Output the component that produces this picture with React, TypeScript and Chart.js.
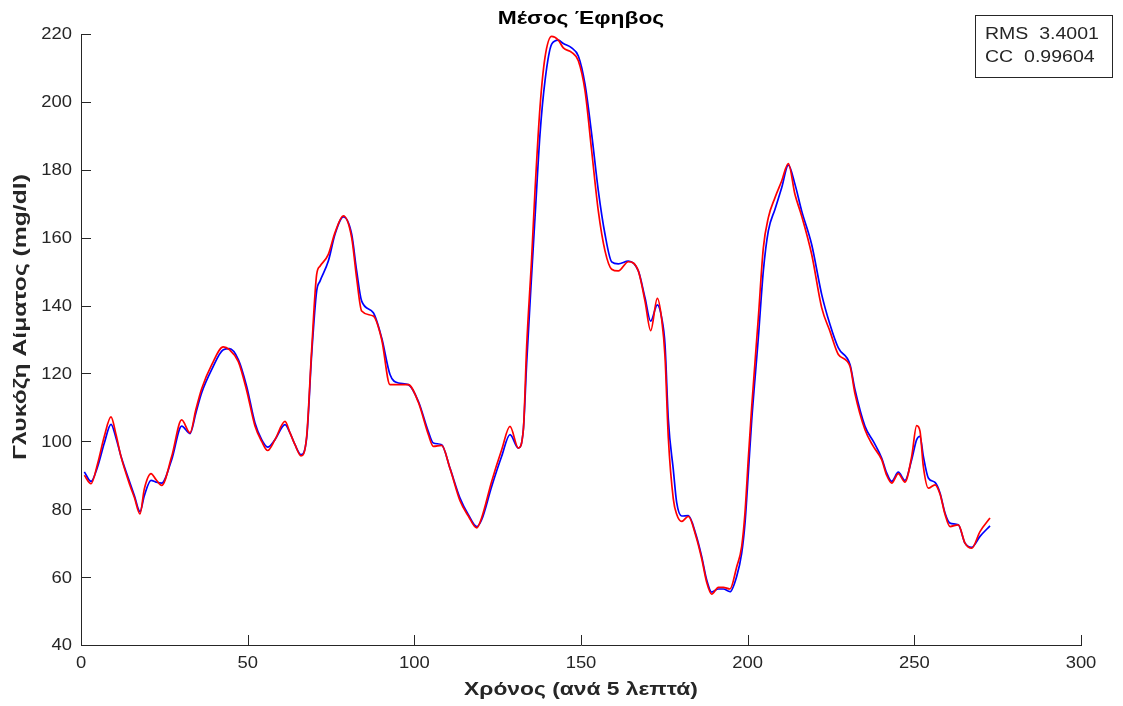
import React, { useEffect, useRef } from "react";
import { Chart, registerables } from "chart.js";

Chart.register(...registerables);

// Time index (samples every 5 minutes)
const TIME = [
  1, 3, 5, 7, 9, 10.5, 12, 14.7, 16, 17.7, 19, 21, 22.5, 24.2, 27.2, 30.2, 32.7, 34.5, 36.2, 39.2,
  42.7, 44.5, 47.2, 49.7, 52.2, 54.2, 56, 58.2, 61.2, 62.7, 64.2, 66, 67.7, 69.2, 70.7, 71.7, 74.2,
  76.2, 78.7, 81.2, 82.7, 84.2, 87.7, 90.2, 92.7, 95.2, 98.2, 101.2, 104.2, 105.7, 108.2, 110.7,
  113.7, 116.2, 118.7, 120.2, 123.2, 126.2, 128.7, 131.2, 132.7, 133.7, 135.2, 136.2, 137.7, 139.2,
  141.2, 143.2, 144.7, 147.2, 149.2, 151.2, 153.2, 155.2, 157.2, 159.2, 161.2, 164.2, 167.2, 169.2,
  170.9, 172.9, 174.2, 175.2, 176.2, 177.7, 178.7, 180.2, 182.2, 184.5, 186.2, 187.7, 189.2, 191.2,
  192.7, 194.7, 196.7, 198.2, 199.2, 200.2, 201.2, 203.2, 204.7, 206.2, 208.2, 210.2, 212.2, 214.2,
  216.2, 219.2, 222.2, 224.7, 227.2, 230.7, 232.2, 235.2, 237.7, 240.2, 241.7, 243.2, 245.2, 247.2,
  249.2, 250.7, 251.7, 252.7, 254.2, 256.2, 257.7, 259.2, 260.7, 263.2, 265.2, 267.2, 269.7, 272.7,
];

// Measured glucose (blue)
const MEASURED = [
  91, 88.2, 92.6, 99.5, 105, 101, 95.6, 87.7, 84, 79.3, 84, 88.5, 88, 87.7, 94.6, 104.5, 102.3, 108.5,
  114.3, 121.1, 127, 127.3, 124.1, 116.2, 105.4, 100.5, 98.3, 100.5, 104.9, 102.5, 99, 96.1, 101,
  125.6, 144.3, 147.2, 153.1, 161, 166.1, 161, 150.2, 141.3, 137.9, 130.5, 119.7, 117.2, 116.7, 111.8,
  102.9, 99.5, 99, 92.1, 83.3, 78.4, 74.9, 76.9, 86.7, 95.6, 102, 98, 103.4, 123, 149.2, 165.9, 190.5,
  206.2, 217, 218.2, 217.2, 215.9, 213.5, 205.2, 190.5, 173.8, 161, 152.9, 152.3, 153.1, 150.2, 142.3,
  135.4, 140.2, 136.4, 128.5, 106.4, 91.6, 82, 78, 78.1, 72.5, 66.1, 59.2, 55.6, 56.5, 56.5, 55.7,
  60.2, 67, 75.9, 90.7, 106, 130.5, 150.2, 162, 168.4, 174.7, 181.4, 175.7, 167.9, 158, 143.3, 134.4,
  127.5, 122.6, 115.2, 104.4, 100, 95.1, 90.7, 88.2, 90.9, 88.5, 94.6, 100.5, 101.5, 95.6, 89.2, 87.9,
  84.8, 78.9, 75.9, 75.4, 70, 68.8, 72, 75.1,
];

// Predicted glucose (red)
const PREDICTED = [
  90, 87.5, 93.5, 101.5, 107.2, 102, 95.5, 87, 83.5, 78.6, 86, 90.5, 88.7, 87, 95.5, 106.3, 102.5,
  109.5, 115.5, 122.5, 127.8, 127, 123.5, 115, 104.5, 100, 97.3, 100.5, 105.9, 102.5, 99, 95.7, 101.5,
  127, 149.2, 151.6, 155.1, 161.5, 166.4, 160, 148, 138.4, 136.9, 130, 116.7, 116.7, 116.7, 111.5, 102,
  98.5, 98.8, 92, 82.5, 78, 74.5, 77.5, 88.2, 97.5, 104.4, 98, 103.4, 128, 154.1, 173.8, 198.4, 213.1,
  219.3, 218.2, 215.9, 214.6, 212.1, 203.3, 185.6, 167.8, 156.1, 150.7, 150.2, 152.9, 150.2, 141.3,
  132.6, 142.1, 136, 125, 101, 83, 78.5, 76.4, 77.9, 72, 65.5, 58.5, 55, 57, 57, 56.5, 63, 69, 79, 95,
  110, 136.4, 157, 165.9, 171.8, 176.7, 181.8, 172.7, 166.4, 155.1, 139.4, 132.4, 125.6, 122.1, 114,
  103.4, 98.5, 94.6, 90, 87.7, 90.5, 88, 95.5, 104.6, 103, 92.6, 86.2, 87.2, 84.5, 78.5, 74.9, 75.4, 70,
  68.5, 73.4, 77.4,
];

const X_TICKS = [0, 50, 100, 150, 200, 250, 300];
const Y_TICKS = [40, 60, 80, 100, 120, 140, 160, 180, 200, 220];
const TITLE = "Μέσος Έφηβος";
const X_LABEL = "Χρόνος (ανά 5 λεπτά)";
const Y_LABEL = "Γλυκόζη Αίματος (mg/dl)";
const STATS = ["RMS  3.4001", "CC  0.99604"];

const AXIS_COLOR = "#262626";
const FONT = "'Liberation Sans', Arial, Helvetica, sans-serif";

function drawStretched(
  ctx: CanvasRenderingContext2D,
  text: string,
  x: number,
  y: number,
  font: string,
  sx: number,
  align: CanvasTextAlign,
  rotate = 0
) {
  ctx.save();
  ctx.translate(x, y);
  if (rotate) ctx.rotate(rotate);
  ctx.scale(sx, 1);
  ctx.font = font;
  ctx.textAlign = align;
  ctx.textBaseline = "middle";
  ctx.fillText(text, 0, 0);
  ctx.restore();
}

export default function App() {
  const canvasRef = useRef<HTMLCanvasElement | null>(null);

  useEffect(() => {
    const canvas = canvasRef.current;
    if (!canvas) return;

    const decorations = {
      id: "matlabDecor",
      afterDraw(chart: any) {
        const ctx = chart.ctx as CanvasRenderingContext2D;
        const area = chart.chartArea;
        const xs = chart.scales.x;
        const ys = chart.scales.y;
        const cx = (area.left + area.right) / 2;
        ctx.save();
        // inward tick marks
        ctx.strokeStyle = AXIS_COLOR;
        ctx.lineWidth = 1;
        ctx.beginPath();
        X_TICKS.forEach((t) => {
          const px = Math.round(xs.getPixelForValue(t)) + 0.5;
          ctx.moveTo(px, area.bottom);
          ctx.lineTo(px, area.bottom - 10);
        });
        Y_TICKS.forEach((t) => {
          const py = Math.round(ys.getPixelForValue(t)) + 0.5;
          ctx.moveTo(area.left, py);
          ctx.lineTo(area.left + 10, py);
        });
        ctx.stroke();

        // tick labels
        ctx.fillStyle = AXIS_COLOR;
        const tickFont = `16px ${FONT}`;
        X_TICKS.forEach((t) => {
          drawStretched(ctx, String(t), xs.getPixelForValue(t), 664, tickFont, 1.15, "center");
        });
        Y_TICKS.forEach((t) => {
          drawStretched(ctx, String(t), 72, ys.getPixelForValue(t) + 1, tickFont, 1.15, "right");
        });

        // title
        ctx.fillStyle = "#000";
        drawStretched(ctx, TITLE, cx, 19, `bold 19px ${FONT}`, 1.2, "center");

        // x label
        ctx.fillStyle = AXIS_COLOR;
        drawStretched(ctx, X_LABEL, cx, 690, `bold 19px ${FONT}`, 1.2, "center");

        // y label
        drawStretched(ctx, Y_LABEL, 21, 317, `bold 19px ${FONT}`, 1.3, "center", -Math.PI / 2);

        // stats box
        ctx.fillStyle = "#fff";
        ctx.fillRect(975.5, 15.5, 137, 62);
        ctx.strokeStyle = AXIS_COLOR;
        ctx.lineWidth = 1;
        ctx.strokeRect(975.5, 15.5, 137, 62);
        ctx.fillStyle = AXIS_COLOR;
        drawStretched(ctx, STATS[0], 985, 35, `16px ${FONT}`, 1.22, "left");
        drawStretched(ctx, STATS[1], 985, 58, `16px ${FONT}`, 1.22, "left");
        ctx.restore();
      },
    };

    const chart = new Chart(canvas, {
      type: "line",
      data: {
        datasets: [
          {
            label: "Predicted",
            data: TIME.map((t, i) => ({ x: t, y: PREDICTED[i] })),
            borderColor: "#ff0000",
            borderWidth: 1.7,
            pointRadius: 0,
            cubicInterpolationMode: "monotone",
            order: 1,
          },
          {
            label: "Measured",
            data: TIME.map((t, i) => ({ x: t, y: MEASURED[i] })),
            borderColor: "#0000ff",
            borderWidth: 1.7,
            pointRadius: 0,
            cubicInterpolationMode: "monotone",
            order: 2,
          },
        ],
      },
      options: {
        responsive: false,
        animation: false,
        devicePixelRatio: 1,
        layout: { padding: { top: 34, right: 42, left: 0, bottom: 0 } },
        plugins: {
          legend: { display: false },
          tooltip: { enabled: false },
          title: { display: false },
        },
        scales: {
          x: {
            type: "linear",
            min: 0,
            max: 300,
            afterBuildTicks: (scale: any) => {
              scale.ticks = X_TICKS.map((v) => ({ value: v }));
            },
            afterFit: (scale: any) => {
              scale.height = 61;
            },
            grid: { display: true, drawOnChartArea: false, drawTicks: false },
            border: { display: true, color: AXIS_COLOR, width: 1 },
            ticks: { display: false },
          },
          y: {
            type: "linear",
            min: 40,
            max: 220,
            afterBuildTicks: (scale: any) => {
              scale.ticks = Y_TICKS.map((v) => ({ value: v }));
            },
            afterFit: (scale: any) => {
              scale.width = 81;
            },
            grid: { display: true, drawOnChartArea: false, drawTicks: false },
            border: { display: true, color: AXIS_COLOR, width: 1 },
            ticks: { display: false },
          },
        },
      },
      plugins: [decorations],
    } as any);

    return () => chart.destroy();
  }, []);

  return (
    <div style={{ position: "fixed", left: 0, top: 0, width: 1123, height: 706, background: "#fff" }}>
      <canvas ref={canvasRef} width={1123} height={706} style={{ display: "block" }} />
    </div>
  );
}
